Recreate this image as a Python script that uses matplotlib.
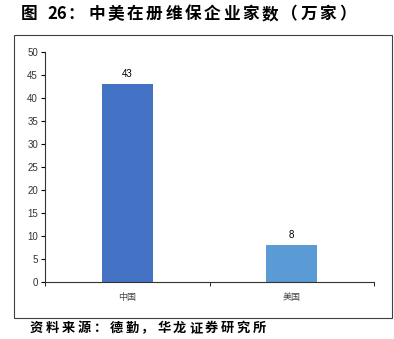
import matplotlib
matplotlib.use("Agg")
import matplotlib.pyplot as plt
from matplotlib.patches import Rectangle

plt.rcParams['font.family'] = ['Noto Sans CJK SC', 'DejaVu Sans']

categories = ["中国", "美国"]
values = [43, 8]
bar_colors = ["#4472C4", "#5B9BD5"]
yticks = [0, 5, 10, 15, 20, 25, 30, 35, 40, 45, 50]

W, H = 394, 339
fig = plt.figure(figsize=(W / 100, H / 100), dpi=100)


def spaced_text(s, x0, y, pitch, **kw):
    # the report spaces its CJK characters out, so place them one by one
    for i, ch in enumerate(s):
        fig.text((x0 + i * pitch) / W, 1 - y / H, ch, ha="left", va="center", **kw)


# outer frame
fig.patches.append(Rectangle((14 / W, 1 - 318 / H), 378 / W, 283 / H,
                             transform=fig.transFigure, fill=False,
                             edgecolor="#404040", linewidth=0.8))

title_kw = dict(fontsize=12, fontweight="bold")
spaced_text("图", 21, 14, 19.5, **title_kw)
fig.text(47 / W, 1 - 14 / H, "26", ha="left", va="center", **title_kw)
fig.text(67 / W, 1 - 14 / H, "：", ha="left", va="center", **title_kw)
spaced_text("中美在册维保企业家数（万家）", 88, 14, 19.3, **title_kw)

spaced_text("资料来源：德勤，华龙证券研究所", 30, 328, 15.9,
            fontsize=9.5, fontweight="bold")

ax = fig.add_axes([45 / W, 1 - 282 / H, 329 / W, 230 / H])
x = range(len(categories))
ax.bar(x, values, width=0.31, color=bar_colors)
for xi, v in zip(x, values):
    ax.text(xi, v + 1.2, str(v), ha="center", va="bottom", fontsize=7,
            family=["Liberation Sans", "DejaVu Sans"])

ax.set_xlim(-0.5, 1.5)
ax.set_ylim(0, 50)
ax.set_yticks(yticks)
ax.set_yticklabels([str(t) for t in yticks], fontsize=7,
                   family=["Liberation Sans", "DejaVu Sans"], color="#333333")
ax.set_xticks(list(x))
ax.set_xticklabels(categories, fontsize=6.5, color="#444444")
ax.tick_params(axis="x", length=0, pad=8)
ax.set_xticks([-0.5, 0.5, 1.5], minor=True)
ax.tick_params(axis="x", which="minor", length=3, direction="out")
ax.tick_params(axis="y", length=3, direction="out", width=0.8, pad=2)
for s in ["top", "right"]:
    ax.spines[s].set_visible(False)
for s in ["left", "bottom"]:
    ax.spines[s].set_color("#333333")
    ax.spines[s].set_linewidth(0.8)

fig.savefig("out.png", dpi=100)
